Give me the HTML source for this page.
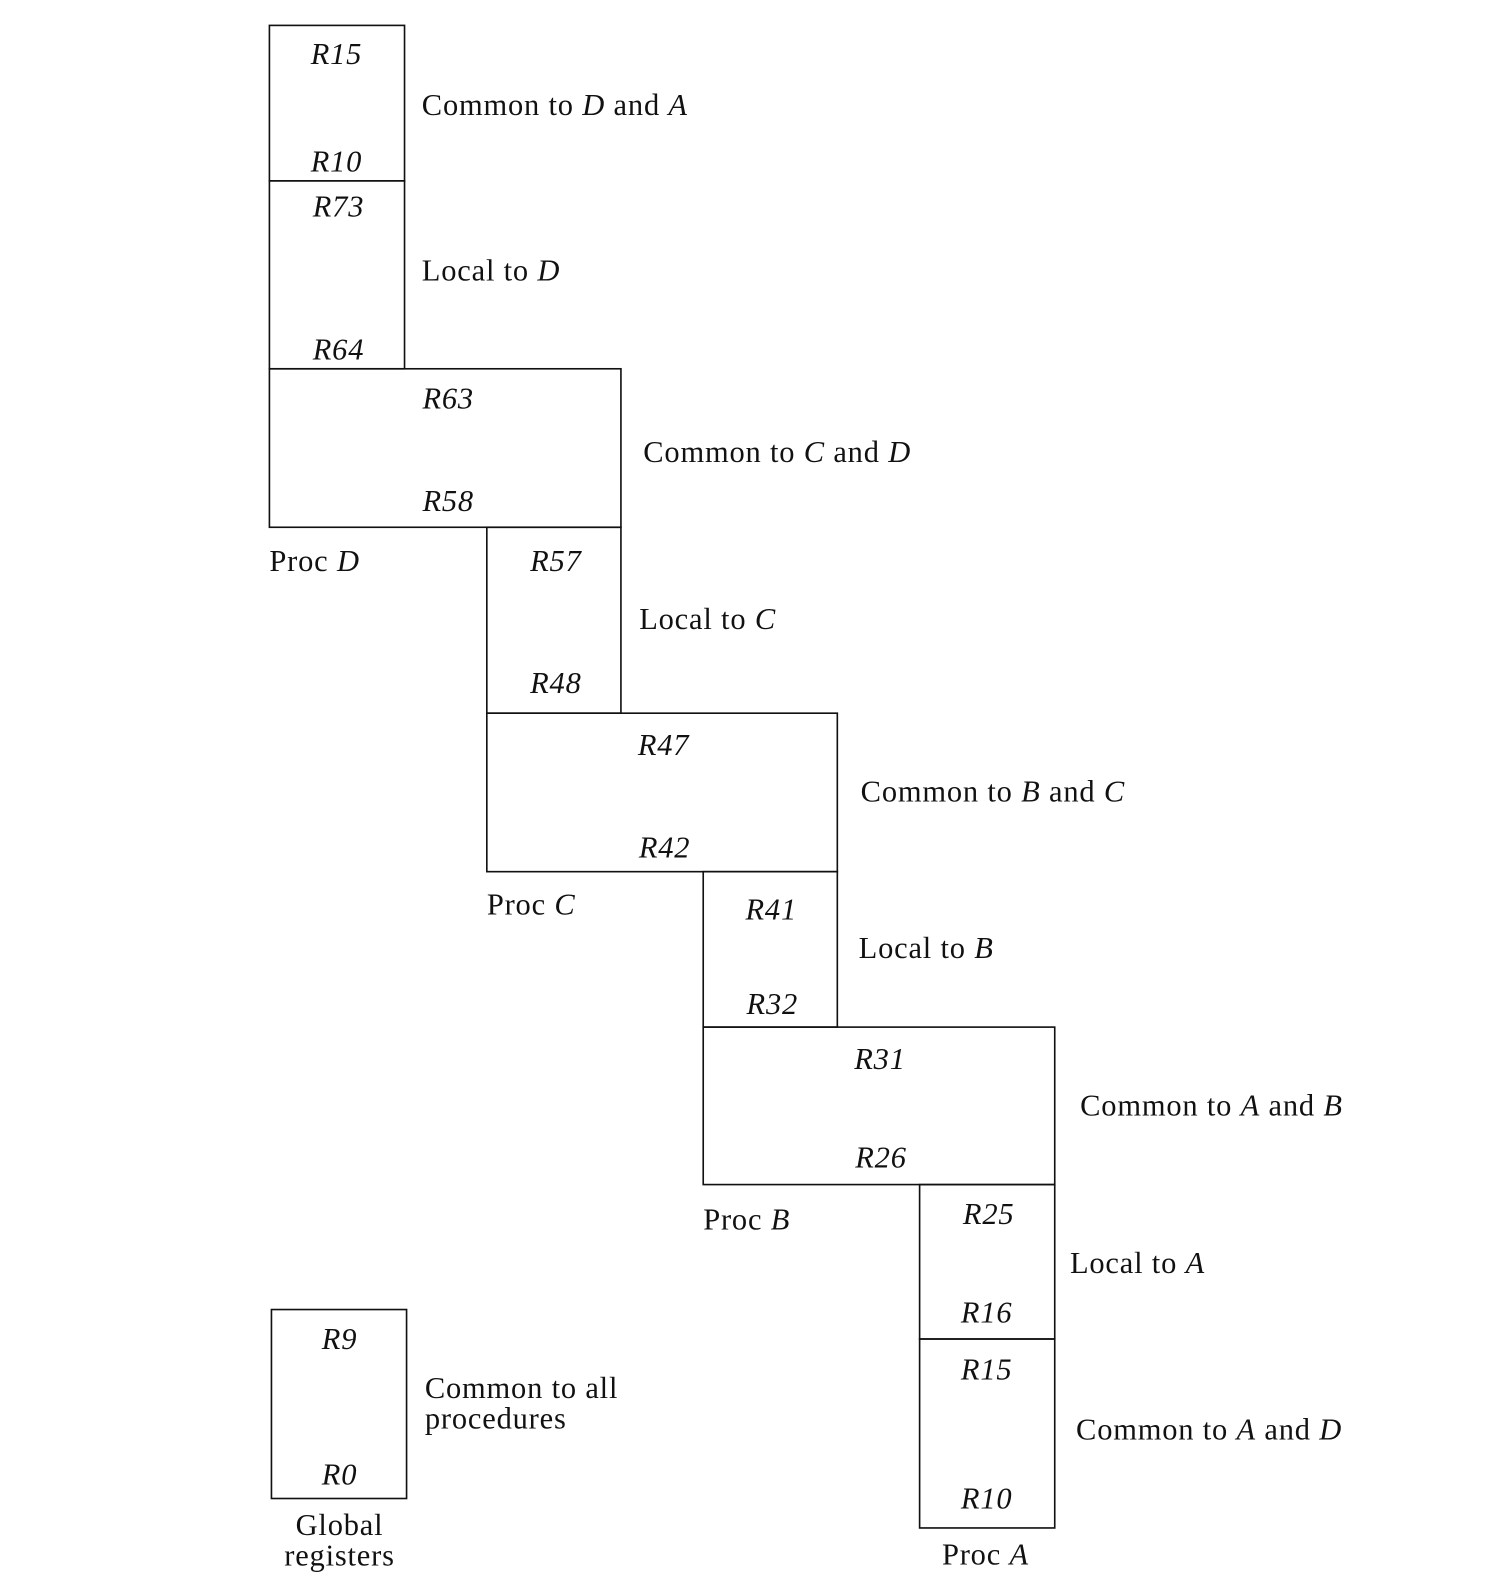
<!DOCTYPE html>
<html><head><meta charset="utf-8"><style>body{margin:0;background:#fff}svg{display:block}text{font-family:"Liberation Serif",serif;font-size:30px;letter-spacing:0.8px;fill:#111}</style></head><body>
<svg width="1506" height="1594" viewBox="0 0 1482 1569" xmlns="http://www.w3.org/2000/svg">
<g fill="none" stroke="#111" stroke-width="1.6">
<rect x="265" y="25" width="133" height="153"/>
<rect x="265" y="178" width="133" height="185"/>
<rect x="265" y="363" width="346" height="156"/>
<rect x="479" y="519" width="132" height="183"/>
<rect x="479" y="702" width="345" height="156"/>
<rect x="692" y="858" width="132" height="153"/>
<rect x="692" y="1011" width="346" height="155"/>
<rect x="905" y="1166" width="133" height="152"/>
<rect x="905" y="1318" width="133" height="186"/>
<rect x="267" y="1289" width="133" height="186"/>
</g>
<g text-anchor="middle" font-style="italic">
<text x="331" y="63" font-style="italic">R15</text>
<text x="331" y="169" font-style="italic">R10</text>
<text x="333" y="213" font-style="italic">R73</text>
<text x="333" y="354" font-style="italic">R64</text>
<text x="441" y="402" font-style="italic">R63</text>
<text x="441" y="503" font-style="italic">R58</text>
<text x="547" y="562" font-style="italic">R57</text>
<text x="547" y="682" font-style="italic">R48</text>
<text x="653" y="743" font-style="italic">R47</text>
<text x="654" y="844" font-style="italic">R42</text>
<text x="759" y="905" font-style="italic">R41</text>
<text x="760" y="998" font-style="italic">R32</text>
<text x="866" y="1052" font-style="italic">R31</text>
<text x="867" y="1149" font-style="italic">R26</text>
<text x="973" y="1205" font-style="italic">R25</text>
<text x="971" y="1302" font-style="italic">R16</text>
<text x="971" y="1358" font-style="italic">R15</text>
<text x="971" y="1485" font-style="italic">R10</text>
<text x="334" y="1328" font-style="italic">R9</text>
<text x="334" y="1461" font-style="italic">R0</text>
</g>
<text x="415" y="113">Common to <tspan font-style="italic">D</tspan> and <tspan font-style="italic">A</tspan></text>
<text x="415" y="276">Local to <tspan font-style="italic">D</tspan></text>
<text x="633" y="455">Common to <tspan font-style="italic">C</tspan> and <tspan font-style="italic">D</tspan></text>
<text x="265" y="562">Proc <tspan font-style="italic">D</tspan></text>
<text x="629" y="619">Local to <tspan font-style="italic">C</tspan></text>
<text x="847" y="789">Common to <tspan font-style="italic">B</tspan> and <tspan font-style="italic">C</tspan></text>
<text x="479" y="900">Proc <tspan font-style="italic">C</tspan></text>
<text x="845" y="943">Local to <tspan font-style="italic">B</tspan></text>
<text x="1063" y="1098">Common to <tspan font-style="italic">A</tspan> and <tspan font-style="italic">B</tspan></text>
<text x="692" y="1210">Proc <tspan font-style="italic">B</tspan></text>
<text x="1053" y="1253">Local to <tspan font-style="italic">A</tspan></text>
<text x="1059" y="1417">Common to <tspan font-style="italic">A</tspan> and <tspan font-style="italic">D</tspan></text>
<text x="927" y="1540">Proc <tspan font-style="italic">A</tspan></text>
<text x="418" y="1376">Common to all</text>
<text x="418" y="1406">procedures</text>
<text x="334" y="1511" text-anchor="middle">Global</text>
<text x="334" y="1541" text-anchor="middle">registers</text>
</svg>
</body></html>
